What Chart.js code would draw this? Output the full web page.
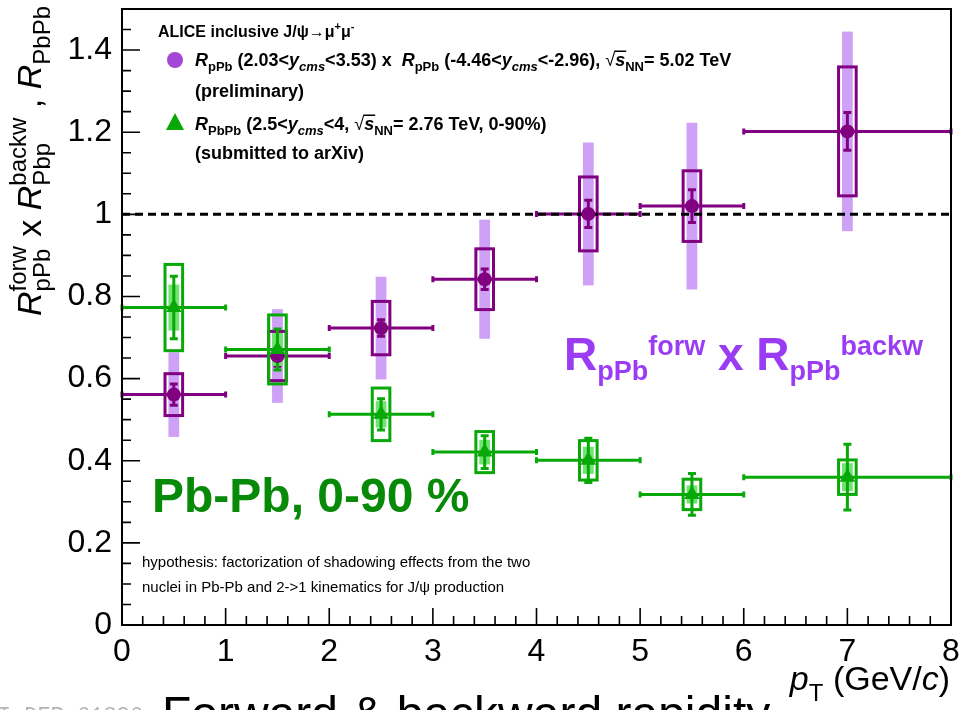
<!DOCTYPE html>
<html>
<head>
<meta charset="utf-8">
<script src="https://cdn.jsdelivr.net/npm/chart.js@4.4.0/dist/chart.umd.min.js"></script>
<style>
  html, body { margin: 0; padding: 0; background: #fff; }
  canvas { display: block; }
</style>
</head>
<body>
<canvas id="raaChart" width="961" height="710"></canvas>
<script>
// pT bins (GeV/c)
var binLow = [0, 1, 2, 3, 4, 5, 6];
var binHigh = [1, 2, 3, 4, 5, 6, 8];
var binCenter = [0.5, 1.5, 2.5, 3.5, 4.5, 5.5, 7];

// RpPb(forw) x RpPb(backw), 5.02 TeV (preliminary)
var pPbVal = [0.561, 0.655, 0.723, 0.842, 1.001, 1.020, 1.202];
var pPbStat = [0.026, 0.025, 0.020, 0.025, 0.033, 0.040, 0.046];
var pPbSyst = [0.051, 0.060, 0.065, 0.074, 0.090, 0.086, 0.157];
var pPbCorr = [0.103, 0.114, 0.125, 0.145, 0.174, 0.203, 0.243];

// RPbPb, 2.76 TeV, 0-90%
var PbPbVal = [0.773, 0.671, 0.513, 0.421, 0.401, 0.318, 0.360];
var PbPbStat = [0.076, 0.050, 0.038, 0.040, 0.054, 0.051, 0.080];
var PbPbSyst = [0.105, 0.084, 0.064, 0.050, 0.048, 0.037, 0.042];
var PbPbCorr = [0.056, 0.040, 0.032, 0.030, 0.033, 0.022, 0.034];

var xTickValues = [0, 1, 2, 3, 4, 5, 6, 7, 8];
var yTickValues = [0, 0.2, 0.4, 0.6, 0.8, 1, 1.2, 1.4];
var refLine = 1;

var FF = '"Liberation Sans", Arial, Helvetica, sans-serif';
var purpleDark = '#800080';
var purpleLight = 'rgb(206,160,246)';
var greenDark = '#07a807';
var greenLight = 'rgb(112,228,112)';

function fontOf(p) {
  return (p.i ? 'italic ' : '') + (p.b ? 'bold ' : '') + p.s + 'px ' + FF;
}

// draws a row of text pieces (sub/superscripts via dy), returns its width
function rich(ctx, x, y, parts, measureOnly) {
  var cx = x;
  parts.forEach(function (p) {
    ctx.font = fontOf(p);
    if (p.sub !== undefined) {
      var w1 = ctx.measureText(p.sub).width;
      var w2 = ctx.measureText(p.sup).width;
      if (!measureOnly) {
        ctx.fillText(p.sub, cx, y + p.dsub);
        ctx.fillText(p.sup, cx, y + p.dsup);
      }
      cx += Math.max(w1, w2);
      return;
    }
    var w = ctx.measureText(p.t).width;
    if (!measureOnly) {
      ctx.fillText(p.t, cx, y + (p.dy || 0));
      if (p.ol) {
        ctx.save();
        ctx.lineWidth = 1.5;
        ctx.strokeStyle = ctx.fillStyle;
        ctx.beginPath();
        ctx.moveTo(cx - 1, y - p.s * 0.82);
        ctx.lineTo(cx + w + 1, y - p.s * 0.82);
        ctx.stroke();
        ctx.restore();
      }
    }
    cx += w;
  });
  return cx - x;
}

function drawSeries(ctx, xs, ys, vals, stat, syst, corr, dark, light) {
  var i, px, py;
  // correlated syst (filled band)
  ctx.fillStyle = light;
  for (i = 0; i < vals.length; i++) {
    var l = xs.getPixelForValue(binCenter[i] - 0.052);
    var r = xs.getPixelForValue(binCenter[i] + 0.052);
    var t = ys.getPixelForValue(vals[i] + corr[i]);
    var b = ys.getPixelForValue(vals[i] - corr[i]);
    ctx.fillRect(l, t, r - l, b - t);
  }
  ctx.strokeStyle = dark;
  ctx.lineWidth = 3;
  // uncorrelated syst (open boxes)
  for (i = 0; i < vals.length; i++) {
    var l2 = xs.getPixelForValue(binCenter[i] - 0.085);
    var r2 = xs.getPixelForValue(binCenter[i] + 0.085);
    var t2 = ys.getPixelForValue(vals[i] + syst[i]);
    var b2 = ys.getPixelForValue(vals[i] - syst[i]);
    ctx.strokeRect(l2, t2, r2 - l2, b2 - t2);
  }
  // bin width + stat errors
  for (i = 0; i < vals.length; i++) {
    px = xs.getPixelForValue(binCenter[i]);
    py = ys.getPixelForValue(vals[i]);
    var xl = xs.getPixelForValue(binLow[i]);
    var xr = xs.getPixelForValue(binHigh[i]);
    var yt = ys.getPixelForValue(vals[i] + stat[i]);
    var yb = ys.getPixelForValue(vals[i] - stat[i]);
    ctx.beginPath();
    ctx.moveTo(xl, py); ctx.lineTo(xr, py);
    ctx.moveTo(xl, py - 3); ctx.lineTo(xl, py + 3);
    ctx.moveTo(xr, py - 3); ctx.lineTo(xr, py + 3);
    ctx.moveTo(px, yt); ctx.lineTo(px, yb);
    ctx.moveTo(px - 4, yt); ctx.lineTo(px + 4, yt);
    ctx.moveTo(px - 4, yb); ctx.lineTo(px + 4, yb);
    ctx.stroke();
  }
}

var decor = {
  id: 'decor',
  beforeDatasetsDraw: function (chart) {
    var ctx = chart.ctx, xs = chart.scales.x, ys = chart.scales.y;
    ctx.save();
    drawSeries(ctx, xs, ys, pPbVal, pPbStat, pPbSyst, pPbCorr, purpleDark, purpleLight);
    drawSeries(ctx, xs, ys, PbPbVal, PbPbStat, PbPbSyst, PbPbCorr, greenDark, greenLight);
    ctx.restore();
  },
  afterDraw: function (chart) {
    var ctx = chart.ctx, xs = chart.scales.x, ys = chart.scales.y;
    var a = chart.chartArea;
    ctx.save();
    // frame
    ctx.strokeStyle = '#000';
    ctx.lineWidth = 2;
    ctx.strokeRect(a.left, a.top, a.right - a.left, a.bottom - a.top);
    // ticks inside the frame
    ctx.lineWidth = 1.6;
    ctx.beginPath();
    var v, p;
    for (v = 0; v <= 8.001; v += 0.2) {
      p = xs.getPixelForValue(v);
      var major = Math.abs(v - Math.round(v)) < 0.01;
      ctx.moveTo(p, a.bottom);
      ctx.lineTo(p, a.bottom - (major ? 17 : 9));
    }
    for (v = 0; v <= 1.5001; v += 0.05) {
      p = ys.getPixelForValue(v);
      var maj = Math.abs(v * 5 - Math.round(v * 5)) < 0.01;
      ctx.moveTo(a.left, p);
      ctx.lineTo(a.left + (maj ? 18 : 9), p);
    }
    ctx.stroke();

    ctx.textBaseline = 'alphabetic';
    ctx.textAlign = 'left';
    ctx.fillStyle = '#000';

    // y title (rotated)
    var yTitle = [
      { t: 'R', s: 34, i: 1 },
      { sub: 'pPb', sup: 'forw', s: 24, dsub: 9, dsup: -15 },
      { t: ' x ', s: 34 },
      { t: 'R', s: 34, i: 1 },
      { sub: 'Pbp', sup: 'backw', s: 24, dsub: 9, dsup: -15 },
      { t: ' , ', s: 34 },
      { t: 'R', s: 34, i: 1 },
      { t: 'PbPb', s: 24, dy: 9 }
    ];
    var len = rich(ctx, 0, 0, yTitle, true);
    ctx.save();
    ctx.translate(41, 6 + len);
    ctx.rotate(-Math.PI / 2);
    rich(ctx, 0, 0, yTitle);
    ctx.restore();

    // x title
    var xTitle = [
      { t: 'p', s: 34, i: 1 },
      { t: 'T', s: 24, dy: 11 },
      { t: ' (GeV/', s: 34 },
      { t: 'c', s: 34, i: 1 },
      { t: ')', s: 34 }
    ];
    var xl = rich(ctx, 0, 0, xTitle, true);
    rich(ctx, 950 - xl, 690, xTitle);

    // legend
    rich(ctx, 158, 37, [
      { t: 'ALICE inclusive J/\u03c8\u2192\u03bc', s: 16, b: 1 },
      { t: '+', s: 11, b: 1, dy: -7 },
      { t: '\u03bc', s: 16, b: 1 },
      { t: '-', s: 11, b: 1, dy: -7 }
    ]);
    rich(ctx, 195, 66, [
      { t: 'R', s: 18, b: 1, i: 1 }, { t: 'pPb', s: 13, b: 1, dy: 5 },
      { t: ' (2.03<', s: 18, b: 1 }, { t: 'y', s: 18, b: 1, i: 1 }, { t: 'cms', s: 13, b: 1, i: 1, dy: 5 },
      { t: '<3.53) x  ', s: 18, b: 1 },
      { t: 'R', s: 18, b: 1, i: 1 }, { t: 'pPb', s: 13, b: 1, dy: 5 },
      { t: ' (-4.46<', s: 18, b: 1 }, { t: 'y', s: 18, b: 1, i: 1 }, { t: 'cms', s: 13, b: 1, i: 1, dy: 5 },
      { t: '<-2.96), ', s: 18, b: 1 },
      { t: '\u221a', s: 18 }, { t: 's', s: 18, b: 1, i: 1, ol: 1 }, { t: 'NN', s: 13, b: 1, dy: 5 },
      { t: '= 5.02 TeV', s: 18, b: 1 }
    ]);
    rich(ctx, 195, 97, [{ t: '(preliminary)', s: 18, b: 1 }]);
    rich(ctx, 195, 130, [
      { t: 'R', s: 18, b: 1, i: 1 }, { t: 'PbPb', s: 13, b: 1, dy: 5 },
      { t: ' (2.5<', s: 18, b: 1 }, { t: 'y', s: 18, b: 1, i: 1 }, { t: 'cms', s: 13, b: 1, i: 1, dy: 5 },
      { t: '<4, ', s: 18, b: 1 },
      { t: '\u221a', s: 18 }, { t: 's', s: 18, b: 1, i: 1, ol: 1 }, { t: 'NN', s: 13, b: 1, dy: 5 },
      { t: '= 2.76 TeV, 0-90%)', s: 18, b: 1 }
    ]);
    rich(ctx, 195, 159, [{ t: '(submitted to arXiv)', s: 18, b: 1 }]);
    // legend markers
    ctx.fillStyle = '#a347d8';
    ctx.beginPath();
    ctx.arc(175, 60, 8, 0, Math.PI * 2);
    ctx.fill();
    ctx.fillStyle = greenDark;
    ctx.beginPath();
    ctx.moveTo(175, 113); ctx.lineTo(184, 130); ctx.lineTo(166, 130);
    ctx.closePath();
    ctx.fill();

    // big labels
    ctx.fillStyle = 'rgb(155,60,245)';
    rich(ctx, 564, 370, [
      { t: 'R', s: 46, b: 1 }, { t: 'pPb', s: 27, b: 1, dy: 10 }, { t: 'forw', s: 27, b: 1, dy: -15 },
      { t: ' x ', s: 46, b: 1 },
      { t: 'R', s: 46, b: 1 }, { t: 'pPb', s: 27, b: 1, dy: 10 }, { t: 'backw', s: 27, b: 1, dy: -15 }
    ]);
    ctx.fillStyle = '#078a07';
    rich(ctx, 152, 512, [{ t: 'Pb-Pb, 0-90 %', s: 48, b: 1 }]);

    ctx.fillStyle = '#000';
    rich(ctx, 142, 567, [{ t: 'hypothesis: factorization of shadowing effects from the two', s: 15 }]);
    rich(ctx, 142, 592, [{ t: 'nuclei in Pb-Pb and 2->1 kinematics for J/\u03c8 production', s: 15 }]);

    // cut-off caption at the bottom
    rich(ctx, 162, 730, [{ t: 'Forward & backward rapidity', s: 48 }]);
    ctx.fillStyle = '#b4b4b4';
    ctx.font = '22px "Liberation Mono", "DejaVu Sans Mono", monospace';
    ctx.textAlign = 'right';
    ctx.fillText('ALI-DER-61826', 143, 722);
    ctx.restore();
  }
};

var ctx = document.getElementById('raaChart').getContext('2d');

var raaChart = new Chart(ctx, {
  type: 'scatter',
  data: {
    datasets: [{
      label: 'RpPb forw x backw',
      data: binCenter.map(function (x, i) { return { x: x, y: pPbVal[i] }; }),
      pointStyle: 'circle',
      pointRadius: 7,
      pointBackgroundColor: purpleDark,
      pointBorderColor: purpleDark,
      pointBorderWidth: 0,
      order: 1
    }, {
      label: 'RPbPb',
      data: binCenter.map(function (x, i) { return { x: x, y: PbPbVal[i] }; }),
      pointStyle: 'triangle',
      pointRadius: 9,
      pointBackgroundColor: greenDark,
      pointBorderColor: greenDark,
      pointBorderWidth: 0,
      order: 0
    }, {
      type: 'line',
      label: 'unity',
      data: [{ x: xTickValues[0], y: refLine }, { x: xTickValues[xTickValues.length - 1], y: refLine }],
      borderColor: '#000',
      borderWidth: 3,
      borderDash: [8, 5],
      pointRadius: 0,
      order: 5
    }]
  },
  options: {
    responsive: false,
    animation: false,
    events: [],
    layout: { padding: { top: 7, right: 10, left: 0, bottom: 0 } },
    plugins: { legend: { display: false }, tooltip: { enabled: false } },
    scales: {
      x: {
        type: 'linear', min: 0, max: 8,
        grid: { display: false, drawTicks: false },
        border: { display: false },
        afterBuildTicks: function (s) { s.ticks = xTickValues.map(function (v) { return { value: v }; }); },
        afterFit: function (s) { s.height = 85; s.paddingLeft = 0; s.paddingRight = 0; },
        ticks: {
          font: { size: 32, family: FF }, color: '#000', padding: 8,
          maxRotation: 0, autoSkip: false,
          callback: function (v) { return String(v); }
        }
      },
      y: {
        type: 'linear', min: 0, max: 1.5,
        grid: { display: false, drawTicks: false },
        border: { display: false },
        afterBuildTicks: function (s) { s.ticks = yTickValues.map(function (v) { return { value: v }; }); },
        afterFit: function (s) { s.width = 122; s.paddingTop = 0; s.paddingBottom = 0; },
        ticks: {
          font: { size: 32, family: FF }, color: '#000', padding: 10,
          autoSkip: false,
          callback: function (v) { return String(v); }
        }
      }
    }
  },
  plugins: [decor]
});
</script>
</body>
</html>
